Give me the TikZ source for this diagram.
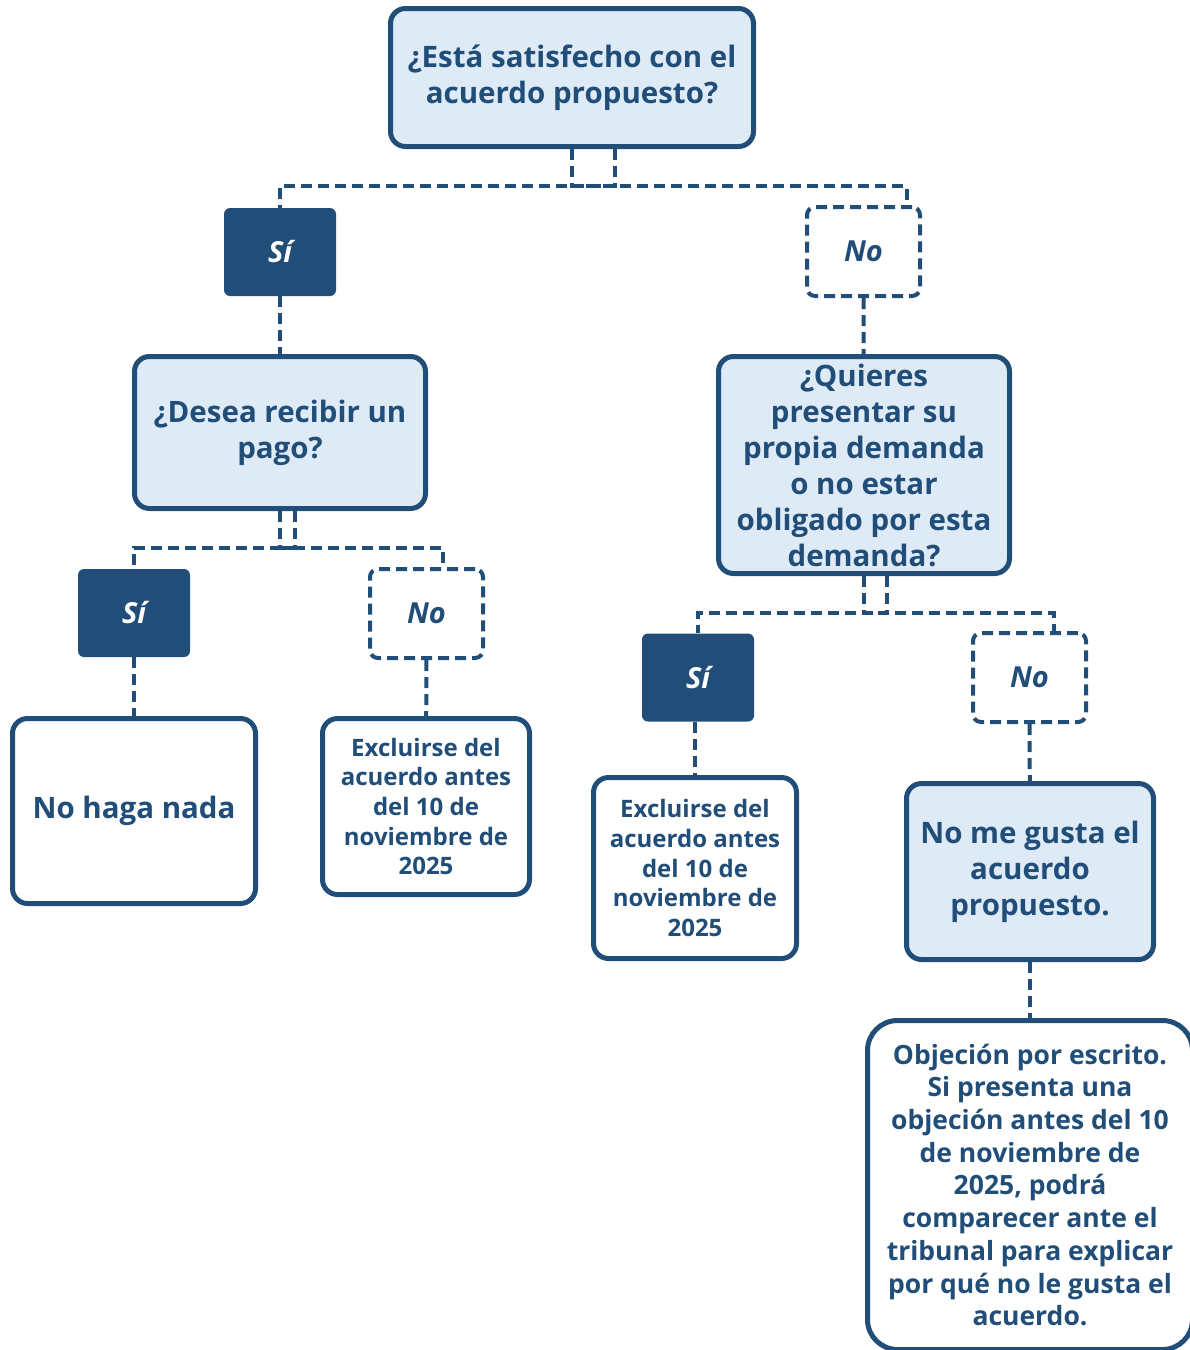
\documentclass[tikz,border=0pt]{standalone}
\usepackage{fontspec}
\setmainfont{Open Sans}
\definecolor{navy}{RGB}{33,78,121}
\definecolor{paleblue}{RGB}{222,234,246}
\begin{document}
\begin{tikzpicture}[x=1pt,y=-1pt,
  box/.style={draw=navy,line width=5pt,text=navy,align=center,inner sep=0pt,rounded corners=15pt,font=\fontsize{29.5}{36}\selectfont\bfseries},
  qbox/.style={box,fill=paleblue},
  abox/.style={box,fill=white},
  small/.style={font=\fontsize{24}{29.6}\selectfont\bfseries},
  sibox/.style={fill=navy,text=white,rounded corners=6pt,minimum width=112pt,minimum height=88pt,font=\fontsize{29}{30}\selectfont\bfseries\itshape},
  nobox/.style={draw=navy,line width=4pt,dash pattern=on 11pt off 6pt,text=navy,rounded corners=8pt,minimum width=113pt,minimum height=89pt,font=\fontsize{29}{30}\selectfont\bfseries\itshape},
  conn/.style={draw=navy,line width=4pt,dash pattern=on 11pt off 6pt}]
\useasboundingbox (0,0) rectangle (1190,1350);
% questions
\node[qbox,minimum width=363pt,minimum height=138pt] (q1) at (572,77.5) {¿Está satisfecho con el\\acuerdo propuesto?};
\node[qbox,minimum width=291pt,minimum height=152pt] (q2) at (280,432.5) {¿Desea recibir un\\pago?};
\node[qbox,minimum width=291pt,minimum height=217pt] (q3) at (864,465) {¿Quieres\\presentar su\\propia demanda\\o no estar\\obligado por esta\\demanda?};
\node[qbox,minimum width=247pt,minimum height=176pt] (q4) at (1030,871.5) {No me gusta el\\acuerdo\\propuesto.};
% answers
\node[sibox] (si1) at (280,252) {Sí};
\node[nobox] (no1) at (863.5,251.5) {No};
\node[sibox] (si2) at (134,613) {Sí};
\node[nobox] (no2) at (426.5,613.5) {No};
\node[sibox] (si3) at (698,677.5) {Sí};
\node[nobox] (no3) at (1029.5,677.5) {No};
% results
\node[abox,minimum width=243pt,minimum height=185pt] (a1) at (134,811) {No haga nada};
\node[abox,small,minimum width=207pt,minimum height=176pt] (a2) at (426,806.5) {Excluirse del\\acuerdo antes\\del 10 de\\noviembre de\\2025};
\node[abox,small,minimum width=203pt,minimum height=181pt] (a3) at (695,868) {Excluirse del\\acuerdo antes\\del 10 de\\noviembre de\\2025};
\node[abox,rounded corners=30pt,font=\fontsize{26.5}{32.7}\selectfont\bfseries,minimum width=325pt,minimum height=329pt] (a4) at (1030,1185) {Objeción por escrito.\\Si presenta una\\objeción antes del 10\\de noviembre de\\2025, podrá\\comparecer ante el\\tribunal para explicar\\por qué no le gusta el\\acuerdo.};
% connectors
\draw[conn] ([xshift=43pt]q1.south) -- ++(0,37) -| (si1.north);
\draw[conn] (q1.south) -- ++(0,37) -| ([xshift=43pt]no1.north);
\draw[conn] (si1) -- (q2);
\draw[conn] (no1) -- (q3);
\draw[conn] ([xshift=15pt]q2.south) -- ++(0,37) -| (si2.north);
\draw[conn] (q2.south) -- ++(0,37) -| ([xshift=16.5pt]no2.north);
\draw[conn] ([xshift=23pt]q3.south) -- ++(0,37) -| (si3.north);
\draw[conn] (q3.south) -- ++(0,37) -| ([xshift=24.5pt]no3.north);
\draw[conn] (si2) -- (a1);
\draw[conn] (no2) -- (a2);
\draw[conn] (si3.south -| a3.north) -- (a3.north);
\draw[conn] (no3) -- (q4);
\draw[conn] (q4) -- (a4);
\end{tikzpicture}
\end{document}
